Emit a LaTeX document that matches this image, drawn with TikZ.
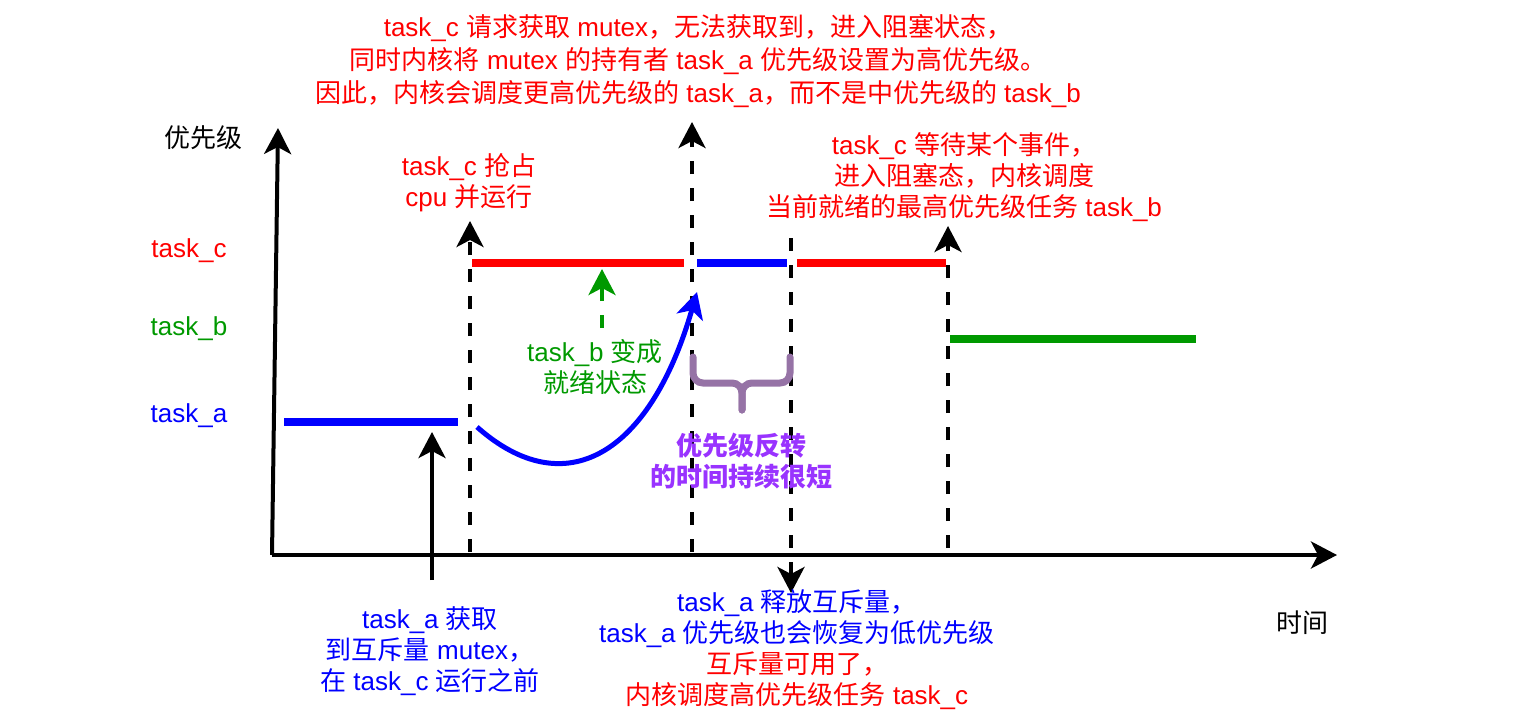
\documentclass[tikz,border=0pt]{standalone}
\usepackage{fontspec}
\setmainfont{Liberation Sans}
\newfontfamily\latinfont{Liberation Sans}
\newfontfamily\cjkfont{Noto Sans CJK SC}
% switch to the CJK font for Chinese characters
\newXeTeXintercharclass\cjkclass
\makeatletter
\def\setcjkrange#1#2{\count@=#1\relax
  \loop\XeTeXcharclass\count@=\cjkclass
  \ifnum\count@<#2\relax\advance\count@\@ne\repeat}
\setcjkrange{"3000}{"303F}
\setcjkrange{"4E00}{"9FFF}
\setcjkrange{"FF00}{"FFEF}
\makeatother
\XeTeXinterchartoks 0 \cjkclass={\cjkfont}
\XeTeXinterchartoks 4095 \cjkclass={\cjkfont}
\XeTeXinterchartoks \cjkclass 0={\latinfont}
\XeTeXinterchartoks \cjkclass 4095={\latinfont}
\XeTeXinterchartokenstate=1
\usetikzlibrary{arrows.meta}
\definecolor{taskred}{HTML}{FF0000}
\definecolor{taskblue}{HTML}{0000FF}
\definecolor{taskgreen}{HTML}{009900}
\definecolor{notepurple}{HTML}{9933FF}
\definecolor{bracepurple}{HTML}{9673A6}

\begin{document}
\begin{tikzpicture}[x=0.5pt,y=-0.5pt,>={Stealth[length=13pt,width=13.5pt,inset=3.5pt]}]
  \tikzstyle{every node}=[font=\fontsize{13}{15.5}\selectfont, align=center, inner sep=0pt]
  \tikzstyle{axis}=[line width=2pt,->]
  \tikzstyle{event}=[line width=2pt, dash pattern=on 6.5pt off 7pt,->]
  \tikzstyle{run}=[line width=3.75pt]
  \tikzstyle{brace}=[line width=3.5pt, bracepurple, rounded corners=5pt, line cap=round]
  \useasboundingbox (0,0) rectangle (1526,728);
  % axes
  \coordinate (o) at (272,555);
  \coordinate (ytop) at (278,128);
  \coordinate (xend) at (1337,555);
  \draw[axis] (o) -- (ytop);
  \draw[axis] (o) -- (xend);
  \node (prio) at (203,138) {优先级};
  \node (time) at (1302,623) {时间};
  \node[text=taskred] (lc) at (189,251) {task\_c};
  \node[text=taskgreen] (lb) at (189,329) {task\_b};
  \node[text=taskblue] (la) at (189,416) {task\_a};
  % who holds the cpu
  \coordinate (a1) at (284,422); \coordinate (a2) at (458,422);
  \coordinate (c1) at (472,263); \coordinate (c2) at (684,263);
  \coordinate (m1) at (697,263); \coordinate (m2) at (787,263);
  \coordinate (c3) at (797,263); \coordinate (c4) at (946,263);
  \coordinate (b1) at (950,339); \coordinate (b2) at (1196,339);
  \draw[run,taskblue] (a1) -- (a2);
  \draw[run,taskred] (c1) -- (c2);
  \draw[run,taskblue] (m1) -- (m2);
  \draw[run,taskred] (c3) -- (c4);
  \draw[run,taskgreen] (b1) -- (b2);
  % switch points
  \coordinate (s1b) at (470,552); \coordinate (s1t) at (470,221);
  \coordinate (s2b) at (692,552); \coordinate (s2t) at (692,122);
  \coordinate (s3t) at (791,238); \coordinate (s3b) at (791,593);
  \coordinate (s4b) at (948,548); \coordinate (s4t) at (948,226);
  \draw[event] (s1b) -- (s1t);
  \draw[event] (s2b) -- (s2t);
  \draw[event] (s3t) -- (s3b);
  \draw[event] (s4b) -- (s4t);
  % mutex taken
  \coordinate (lk1) at (432,580); \coordinate (lk2) at (432,432);
  \draw[line width=2pt,->] (lk1) -- (lk2);
  % task_b ready
  \coordinate (rd1) at (602,328); \coordinate (rd2) at (602,269);
  \draw[line width=2pt, dash pattern=on 6.5pt off 7pt, taskgreen,->] (rd1) -- (rd2);
  % task_a boosted
  \coordinate (bs1) at (477,427); \coordinate (bs2) at (697,292);
  \draw[line width=2.5pt, taskblue,->] (bs1) .. controls (565,505) and (650,455) .. (bs2);
  % inversion time
  \coordinate (br1) at (693,357); \coordinate (br2) at (790,357);
  \coordinate (brm) at (742,383); \coordinate (brt) at (742,410);
  \draw[brace] (br1) |- (brm) -- (brt);
  \draw[brace] (br2) |- (brm) -- (brt);
  % notes
  \node[text=taskred, font=\fontsize{13}{16.5}\selectfont] (lockfail) at (698,61)
    {task\_c 请求获取 mutex，无法获取到，进入阻塞状态，\\
     同时内核将 mutex 的持有者 task\_a 优先级设置为高优先级。\\
     因此，内核会调度更高优先级的 task\_a，而不是中优先级的 task\_b};
  \node[text=taskred] (preempt) at (469,183) {task\_c 抢占\\cpu 并运行};
  \node[text=taskred] (wait) at (964,177)
    {task\_c 等待某个事件，\\进入阻塞态，内核调度\\当前就绪的最高优先级任务 task\_b};
  \node[text=taskgreen] (ready) at (595,367) {task\_b 变成\\就绪状态};
  \node[text=notepurple, font=\fontsize{13}{15.5}\selectfont\bfseries] (short) at (741,461)
    {优先级反转\\的时间持续很短};
  \node[text=taskblue] (lock) at (430,651)
    {task\_a 获取\\到互斥量 mutex，\\在 task\_c 运行之前};
  \node (unlock) at (797,650)
    {\textcolor{taskblue}{task\_a 释放互斥量，}\\
     \textcolor{taskblue}{task\_a 优先级也会恢复为低优先级}\\
     \textcolor{taskred}{互斥量可用了，}\\
     \textcolor{taskred}{内核调度高优先级任务 task\_c}};
\end{tikzpicture}
\end{document}
